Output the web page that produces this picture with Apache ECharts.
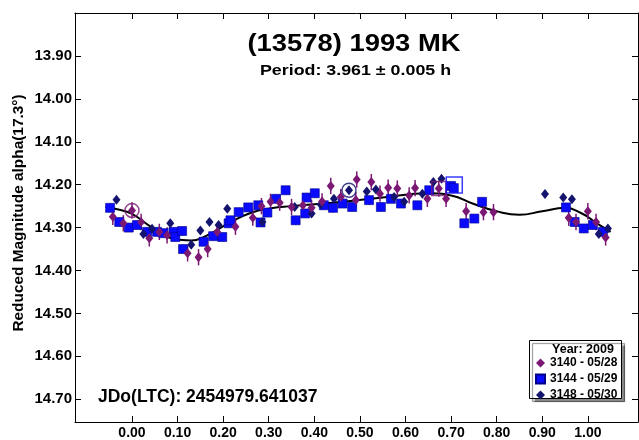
<!DOCTYPE html>
<html><head><meta charset="utf-8">
<script src="https://cdn.jsdelivr.net/npm/echarts@6/dist/echarts.min.js"></script>
<style>html,body{margin:0;padding:0;background:#fff}#c{width:639px;height:440px}</style>
</head><body><div id="c"></div>
<script>
const titleText = '(13578) 1993 MK';
const subtitleText = 'Period: 3.961 ± 0.005 h';
const epochText = 'JDo(LTC): 2454979.641037';
const yAxisName = 'Reduced Magnitude alpha(17.3°)';
const legendTitle = 'Year: 2009';
const seriesNames = ['3140 - 05/28', '3144 - 05/29', '3148 - 05/30'];

const xTicks = [0.0, 0.1, 0.2, 0.3, 0.4, 0.5, 0.6, 0.7, 0.8, 0.9, 1.0];
const yTicks = [13.9, 14.0, 14.1, 14.2, 14.3, 14.4, 14.5, 14.6, 14.7];

const s3140 = [[-0.042,14.275],[0.0,14.26],[-0.019,14.29],[0.02,14.287],[0.038,14.325],[0.06,14.31],[0.077,14.318],[0.122,14.36],[0.146,14.369],[0.166,14.35],[0.187,14.31],[0.227,14.298],[0.265,14.277],[0.284,14.25],[0.304,14.24],[0.324,14.242],[0.35,14.252],[0.375,14.248],[0.394,14.254],[0.417,14.239],[0.436,14.203],[0.458,14.229],[0.491,14.236],[0.493,14.188],[0.525,14.194],[0.544,14.221],[0.562,14.207],[0.582,14.209],[0.608,14.225],[0.621,14.208],[0.648,14.233],[0.673,14.209],[0.689,14.233],[0.733,14.262],[0.771,14.264],[0.793,14.264],[0.958,14.277],[0.974,14.287],[1.0,14.262],[1.018,14.287],[1.039,14.323]];
const s3144 = [[-0.048,14.254],[-0.028,14.287],[-0.007,14.30],[0.011,14.294],[0.033,14.31],[0.055,14.31],[0.069,14.313],[0.091,14.31],[0.095,14.322],[0.11,14.308],[0.112,14.35],[0.157,14.333],[0.178,14.32],[0.198,14.322],[0.212,14.29],[0.216,14.283],[0.234,14.264],[0.255,14.253],[0.277,14.248],[0.282,14.288],[0.297,14.265],[0.316,14.233],[0.337,14.213],[0.359,14.283],[0.38,14.267],[0.383,14.23],[0.401,14.22],[0.421,14.248],[0.441,14.254],[0.462,14.244],[0.483,14.252],[0.52,14.236],[0.546,14.252],[0.568,14.233],[0.59,14.244],[0.626,14.248],[0.652,14.213],[0.70,14.203],[0.706,14.208],[0.729,14.29],[0.751,14.279],[0.768,14.24],[0.952,14.253],[0.971,14.287],[0.991,14.302],[1.011,14.294],[1.033,14.31]];
const s3148 = [[-0.034,14.235],[0.025,14.315],[0.044,14.303],[0.084,14.29],[0.13,14.34],[0.15,14.307],[0.17,14.287],[0.19,14.294],[0.209,14.256],[0.286,14.287],[0.357,14.252],[0.394,14.267],[0.414,14.246],[0.443,14.233],[0.476,14.213],[0.515,14.216],[0.535,14.211],[0.575,14.229],[0.597,14.24],[0.637,14.221],[0.661,14.194],[0.679,14.186],[0.906,14.222],[0.946,14.23],[0.965,14.234],[1.024,14.315],[1.044,14.302]];

const err3140 = 0.019;
const err3144 = 0.010;
const err3148 = 0.006;

const fitCurve = [[-0.058,14.252],[-0.03,14.258],[0.0,14.268],[0.04,14.297],[0.09,14.326],[0.13,14.33],[0.165,14.318],[0.215,14.288],[0.26,14.266],[0.305,14.255],[0.35,14.25],[0.44,14.242],[0.55,14.23],[0.65,14.22],[0.70,14.225],[0.75,14.245],[0.80,14.262],[0.85,14.27],[0.90,14.262],[0.95,14.254],[0.985,14.266],[1.02,14.29],[1.05,14.31]];

const startMarks3140 = [[0.0,14.26]];
const startMarks3148 = [[0.476,14.213]];
const endMarks3140 = [[0.673,14.209]];
const endMarks3144 = [[0.707,14.201]];

const C1 = '#7a1874', C2 = '#0a0aff', C3 = '#14146e';
const FONT = '"Liberation Sans", Arial, sans-serif';

function errSeries(data, err, color) {
  return {
    type: 'custom', silent: true, z: 3,
    encode: {x: 0, y: 1},
    data: data.map(d => [d[0], d[1], err]),
    renderItem: function (params, api) {
      const x = api.value(0), y = api.value(1), e = api.value(2);
      const p1 = api.coord([x, y - e]), p2 = api.coord([x, y + e]);
      return {type: 'line', shape: {x1: p1[0], y1: p1[1], x2: p2[0], y2: p2[1]},
              style: {stroke: color, lineWidth: 1.5}};
    }
  };
}

const chart = echarts.init(document.getElementById('c'), null, {renderer: 'canvas'});
const xMin = -0.125, xMax = 1.11, yMin = 13.8, yMax = 14.753;
const axisLine = {show: true, onZero: false, lineStyle: {color: '#000', width: 1}};
const tickStyle = {show: true, inside: true, length: 6, lineStyle: {color: '#000'}};

chart.setOption({
  animation: false,
  backgroundColor: '#fff',
  textStyle: {fontFamily: FONT},
  grid: {left: 75, top: 13, right: 1, bottom: 18, containLabel: false},
  xAxis: [
    {type: 'value', min: xMin, max: xMax, position: 'bottom', axisLine: axisLine,
     splitLine: {show: false},
     axisTick: Object.assign({customValues: xTicks}, tickStyle),
     axisLabel: {customValues: xTicks, formatter: v => v.toFixed(2), margin: 4,
       fontSize: 14, fontWeight: 'bold', color: '#000', fontFamily: FONT}},
    {type: 'value', min: xMin, max: xMax, position: 'top', axisLine: axisLine,
     splitLine: {show: false},
     axisTick: Object.assign({customValues: xTicks}, tickStyle),
     axisLabel: {show: false}}
  ],
  yAxis: [
    {type: 'value', min: yMin, max: yMax, inverse: true, position: 'left', axisLine: axisLine,
     splitLine: {show: false},
     axisTick: Object.assign({customValues: yTicks}, tickStyle),
     axisLabel: {customValues: yTicks, formatter: v => v.toFixed(2), margin: 3,
       fontSize: 15, fontWeight: 'bold', color: '#000', fontFamily: FONT}},
    {type: 'value', min: yMin, max: yMax, inverse: true, position: 'right', axisLine: axisLine,
     splitLine: {show: false},
     axisTick: Object.assign({customValues: yTicks}, tickStyle),
     axisLabel: {show: false}}
  ],
  legend: {
    orient: 'vertical', left: 535, top: 357, itemWidth: 9, itemHeight: 9, itemGap: 4,
    padding: 0,
    textStyle: {fontSize: 12, fontWeight: 'bold', color: '#000', fontFamily: FONT},
    data: [
      {name: seriesNames[0], icon: 'diamond'},
      {name: seriesNames[1], icon: 'rect'},
      {name: seriesNames[2], icon: 'diamond'}
    ]
  },
  graphic: [
    {type: 'text', x: 354, y: 45, scaleX: 1.19,
     style: {text: titleText, font: 'bold 23px ' + FONT, fill: '#000', align: 'center', verticalAlign: 'middle'}},
    {type: 'text', x: 355.5, y: 71, scaleX: 1.15,
     style: {text: subtitleText, font: 'bold 15.5px ' + FONT, fill: '#000', align: 'center', verticalAlign: 'middle'}},
    {type: 'text', x: 98, y: 397,
     style: {text: epochText, font: 'bold 17.5px ' + FONT, fill: '#000', align: 'left', verticalAlign: 'middle'}},
    {type: 'text', x: 19, y: 213, rotation: Math.PI / 2, scaleX: 1.1,
     style: {text: yAxisName, font: 'bold 14px ' + FONT, fill: '#000', align: 'center', verticalAlign: 'middle'}},
    {type: 'rect', z: -1, shape: {x: 529.5, y: 340.5, width: 92, height: 58},
     style: {fill: '#fff', stroke: '#000', lineWidth: 1,
       shadowColor: 'rgba(0,0,0,0.45)', shadowOffsetX: 3, shadowOffsetY: 3, shadowBlur: 1}},
    {type: 'text', z: 10, x: 583, y: 349.5,
     style: {text: legendTitle, font: 'bold 12.5px ' + FONT, fill: '#000', align: 'center', verticalAlign: 'middle'}}
  ],
  series: [
    {type: 'line', data: fitCurve, smooth: 0.5, showSymbol: false, silent: true, z: 2,
     lineStyle: {color: '#000', width: 2}},
    errSeries(s3144, err3144, C2),
    {name: seriesNames[1], type: 'scatter', data: s3144, symbol: 'rect', symbolSize: 9, z: 4,
     itemStyle: {color: C2, borderColor: '#00008a', borderWidth: 0.6, opacity: 1}},
    errSeries(s3148, err3148, C3),
    {name: seriesNames[2], type: 'scatter', data: s3148, symbol: 'diamond', symbolSize: [8, 10], z: 5,
     itemStyle: {color: C3, opacity: 1}},
    errSeries(s3140, err3140, C1),
    {name: seriesNames[0], type: 'scatter', data: s3140, symbol: 'diamond', symbolSize: [8, 10], z: 6,
     itemStyle: {color: C1, opacity: 1}},
    {type: 'scatter', data: startMarks3140, symbol: 'circle', symbolSize: 14, z: 7, silent: true,
     itemStyle: {color: 'transparent', borderColor: C1, borderWidth: 1.5}},
    {type: 'scatter', data: startMarks3148, symbol: 'circle', symbolSize: 14, z: 7, silent: true,
     itemStyle: {color: 'transparent', borderColor: C3, borderWidth: 1.5}},
    {type: 'scatter', data: endMarks3140, symbol: 'rect', symbolSize: 14, z: 7, silent: true,
     itemStyle: {color: 'transparent', borderColor: C1, borderWidth: 1.5}},
    {type: 'scatter', data: endMarks3144, symbol: 'rect', symbolSize: 16, z: 7, silent: true,
     itemStyle: {color: 'transparent', borderColor: C2, borderWidth: 1.5}}
  ]
});
</script>
</body></html>
